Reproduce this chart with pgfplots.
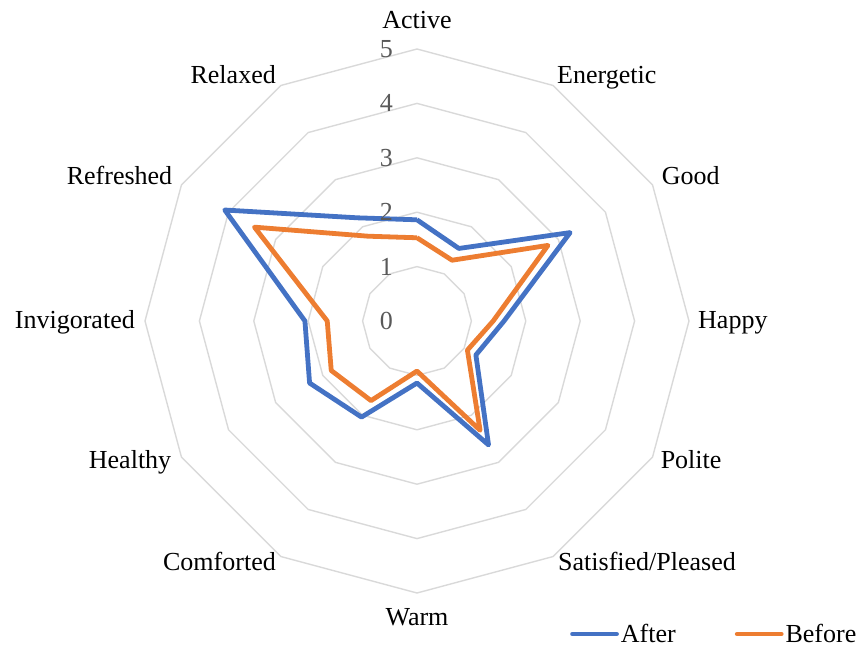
\documentclass[border=0pt]{standalone}
\usepackage{fontspec}
\setmainfont{Liberation Serif}
\usepackage{pgfplots}
\pgfplotsset{compat=1.18}
\usepgfplotslibrary{polar}
\definecolor{afterblue}{HTML}{4472C4}
\definecolor{beforeorange}{HTML}{ED7D31}
\definecolor{gridgray}{HTML}{D9D9D9}
\definecolor{tickgray}{HTML}{595959}
\tikzset{labelnode/.style={inner sep=0pt, font=\fontsize{26}{31}\selectfont}}
\begin{document}
\begin{tikzpicture}
\begin{polaraxis}[
  width=544pt, height=544pt, scale only axis,
  ymin=0, ymax=5,
  hide axis,
  clip=false,
  font=\fontsize{26}{31}\selectfont,
  legend columns=2,
  legend style={draw=none, fill=none, at={(axis cs:-64.4,6.38)}, anchor=west,
    font=\fontsize{26}{31}\selectfont,
    /tikz/every even column/.append style={column sep=57pt}},
  legend image code/.code={\draw[#1, line cap=round] (0pt,0pt) -- (44pt,0pt);},
  every axis plot/.append style={no marks, line join=round},
]
\pgfplotsinvokeforeach{1,...,5}{
  \addplot[gridgray, line width=1.4pt, forget plot] coordinates {
    (90,#1) (60,#1) (30,#1) (0,#1) (-30,#1) (-60,#1) (-90,#1)
    (-120,#1) (-150,#1) (-180,#1) (-210,#1) (-240,#1) (-270,#1)};
}
\addplot[afterblue, line width=4.8pt] coordinates {
  (90,1.86) (60,1.54) (30,3.25) (0,1.60) (-30,1.25) (-60,2.63) (-90,1.14)
  (-120,2.04) (-150,2.28) (-180,2.06) (-210,4.08) (-240,2.19) (-270,1.86)};
\addlegendentry{After}
\addplot[beforeorange, line width=4.8pt] coordinates {
  (90,1.53) (60,1.29) (30,2.78) (0,1.40) (-30,1.07) (-60,2.32) (-90,0.92)
  (-120,1.69) (-150,1.82) (-180,1.65) (-210,3.45) (-240,1.80) (-270,1.53)};
\addlegendentry{Before}
\pgfplotsinvokeforeach{0,...,5}{
  \node[labelnode, anchor=east, text=tickgray, xshift=-24pt] at (axis cs:90,#1) {#1};
}
\node[labelnode, anchor=base, yshift=20pt] at (axis cs:90,5) {Active};
\node[labelnode, anchor=base west, xshift=4pt, yshift=2pt] at (axis cs:60,5) {Energetic};
\node[labelnode, anchor=base west, xshift=9pt, yshift=0pt] at (axis cs:30,5) {Good};
\node[labelnode, anchor=base west, xshift=9pt, yshift=-7pt] at (axis cs:0,5) {Happy};
\node[labelnode, anchor=base west, xshift=8pt, yshift=-11pt] at (axis cs:-30,5) {Polite};
\node[labelnode, anchor=base west, xshift=5pt, yshift=-14pt] at (axis cs:-60,5) {Satisfied/Pleased};
\node[labelnode, anchor=base, yshift=-32pt] at (axis cs:-90,5) {Warm};
\node[labelnode, anchor=base east, xshift=-5pt, yshift=-14pt] at (axis cs:-120,5) {Comforted};
\node[labelnode, anchor=base east, xshift=-10pt, yshift=-11pt] at (axis cs:-150,5) {Healthy};
\node[labelnode, anchor=base east, xshift=-10pt, yshift=-7pt] at (axis cs:180,5) {Invigorated};
\node[labelnode, anchor=base east, xshift=-9pt, yshift=0pt] at (axis cs:150,5) {Refreshed};
\node[labelnode, anchor=base east, xshift=-5pt, yshift=2pt] at (axis cs:120,5) {Relaxed};
\coordinate (O) at (axis cs:0,0);
\end{polaraxis}
\pgfresetboundingbox
\path[use as bounding box] ([shift={(-417pt,-327pt)}]O) rectangle ([shift={(443pt,321pt)}]O);
\end{tikzpicture}
\end{document}
